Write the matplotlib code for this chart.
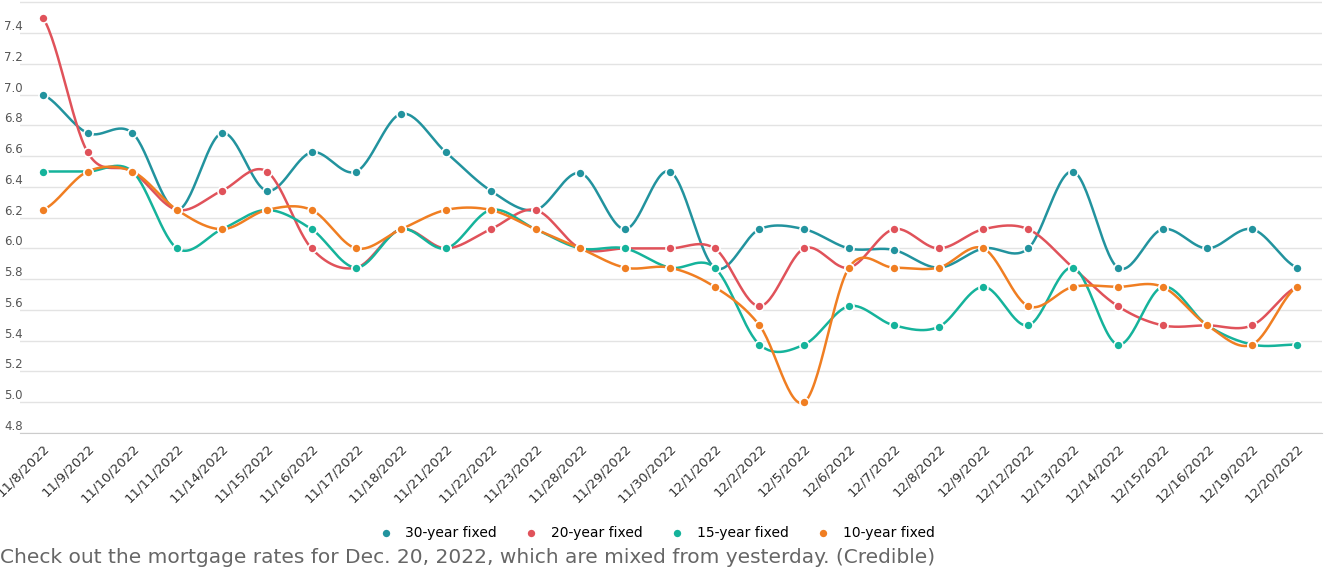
import numpy as np
import matplotlib
matplotlib.use("Agg")
import matplotlib.pyplot as plt

dates = ["11/8/2022","11/9/2022","11/10/2022","11/11/2022","11/14/2022","11/15/2022","11/16/2022",
         "11/17/2022","11/18/2022","11/21/2022","11/22/2022","11/23/2022","11/28/2022","11/29/2022",
         "11/30/2022","12/1/2022","12/2/2022","12/5/2022","12/6/2022","12/7/2022","12/8/2022",
         "12/9/2022","12/12/2022","12/13/2022","12/14/2022","12/15/2022","12/16/2022","12/19/2022","12/20/2022"]
series_a = [7.0,6.75,6.75,6.25,6.75,6.375,6.625,6.5,6.875,6.625,6.375,6.25,6.49,6.125,6.5,5.875,6.125,6.125,
            6.0,5.99,5.875,6.0,6.0,6.5,5.875,6.125,6.0,6.125,5.875]
series_b = [7.5,6.625,6.5,6.25,6.375,6.5,6.0,5.875,6.125,6.0,6.125,6.25,6.0,6.0,6.0,6.0,5.625,6.0,5.875,
            6.125,6.0,6.125,6.125,5.875,5.625,5.5,5.5,5.5,5.75]
series_c = [6.5,6.5,6.5,6.0,6.125,6.25,6.125,5.875,6.125,6.0,6.25,6.125,6.0,6.0,5.875,5.875,5.375,5.375,
            5.625,5.5,5.49,5.75,5.5,5.875,5.375,5.75,5.5,5.375,5.375]
series_d = [6.25,6.5,6.5,6.25,6.125,6.25,6.25,6.0,6.125,6.25,6.25,6.125,6.0,5.875,5.875,5.75,5.5,5.0,
            5.875,5.875,5.875,6.0,5.625,5.75,5.75,5.75,5.5,5.375,5.75]
names = ["30-year fixed", "20-year fixed", "15-year fixed", "10-year fixed"]
colors = ["#22939e", "#e0525a", "#15b39b", "#f07e22"]
yticks = [4.8,5.0,5.2,5.4,5.6,5.8,6.0,6.2,6.4,6.6,6.8,7.0,7.2,7.4]

def catmull(y, n=30):
    y = np.asarray(y, float)
    p = np.concatenate([[y[0]], y, [y[-1]]])
    xs, ys = [], []
    for i in range(len(y) - 1):
        p0, p1, p2, p3 = p[i], p[i+1], p[i+2], p[i+3]
        t = np.linspace(0, 1, n, endpoint=False)
        yy = 0.5*((2*p1) + (-p0+p2)*t + (2*p0-5*p1+4*p2-p3)*t**2 + (-p0+3*p1-3*p2+p3)*t**3)
        xs.append(i + t); ys.append(yy)
    xs.append([len(y)-1]); ys.append([y[-1]])
    return np.concatenate(xs), np.concatenate(ys)

fig = plt.figure(figsize=(13.33, 5.71), dpi=100)
ax = fig.add_axes([20/1333, 1-433/571, 1302/1333, 433/571])
x = np.arange(len(dates))
for s, c, nm in zip([series_a, series_b, series_c, series_d], colors, names):
    sx, sy = catmull(s)
    ax.plot(sx, sy, color=c, lw=1.8, zorder=3)
    ax.plot(x, s, 'o', color=c, ms=6.5, mec='white', mew=1.2, zorder=4, label=nm)
ax.set_xlim(-0.51, 28.56)
ax.set_ylim(4.8, 7.615)
ax.set_yticks(yticks)
ax.set_yticklabels([f"{v:.1f}" for v in yticks], fontsize=8.5, color="#555555")
ax.tick_params(axis='y', length=0, pad=-2)
for lab in ax.get_yticklabels():
    lab.set_verticalalignment('bottom')
ax.set_xticks(x)
ax.set_xticklabels(dates, rotation=45, ha='right', rotation_mode='anchor', fontsize=9.5, color="#333333")
ax.tick_params(axis='x', length=0, pad=6)
ax.grid(axis='y', color='#e3e3e3', lw=1)
ax.axhline(7.6, color='#e3e3e3', lw=1)
for sp in ['top', 'right', 'left']:
    ax.spines[sp].set_visible(False)
ax.spines['bottom'].set_color('#cccccc')
ax.set_axisbelow(True)
fig.legend(loc='upper center', bbox_to_anchor=(0.49, 1-514/571), ncol=4, frameon=False,
           fontsize=10, handletextpad=0.4, columnspacing=1.5)
fig.text(0.0, 1-567/571, "Check out the mortgage rates for Dec. 20, 2022, which are mixed from yesterday. (Credible)",
         fontsize=14.5, color="#666666", va='bottom')
fig.savefig("out.png", dpi=100)
